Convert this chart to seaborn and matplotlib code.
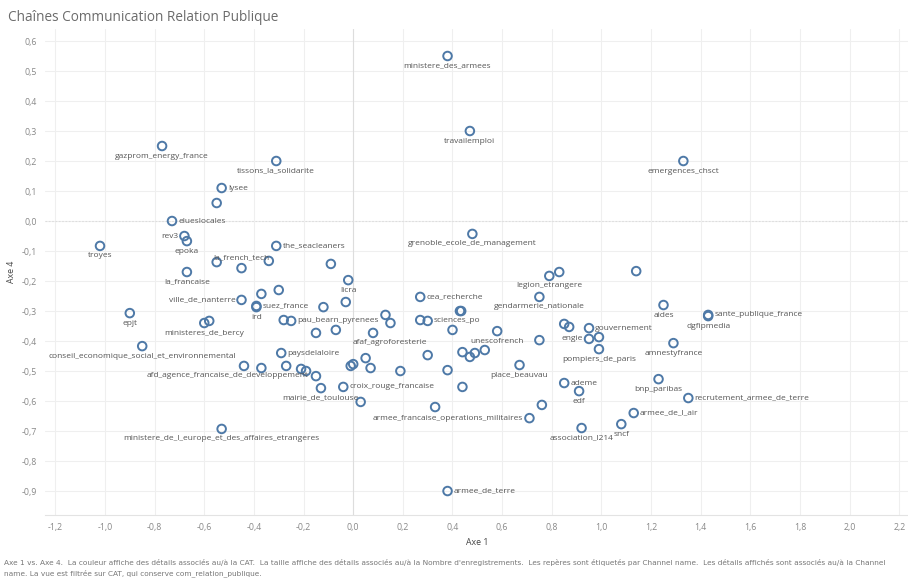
import matplotlib
matplotlib.use("Agg")
import matplotlib.pyplot as plt
import seaborn as sns
import pandas as pd
from matplotlib.ticker import FuncFormatter, MultipleLocator

# ---------------- data ----------------
channel_name = [
    "ministere_des_armees", "travailemploi", "gazprom_energy_france", "tissons_la_solidarite",
    "emergences_chsct", "lysee", "", "elueslocales", "rev3", "epoka", "troyes", "the_seacleaners",
    "grenoble_ecole_de_management", "", "la_french_tech", "", "", "la_francaise", "licra", "", "",
    "ville_de_nanterre", "suez_france", "ird", "", "", "epjt", "ministeres_de_bercy", "", "",
    "pau_bearn_pyrenees", "", "", "afaf_agroforesterie", "", "",
    "conseil_economique_social_et_environnemental", "paysdelaloire",
    "afd_agence_francaise_de_developpement", "", "", "", "", "", "mairie_de_toulouse",
    "croix_rouge_francaise", "", "", "", "", "", "cea_recherche", "", "", "", "sciences_po", "",
    "unescofrench", "", "", "", "", "", "", "place_beauvau", "", "", "", "", "",
    "armee_francaise_operations_militaires", "armee_de_terre", "legion_etrangere", "", "",
    "gendarmerie_nationale", "", "", "gouvernement", "engie", "", "pompiers_de_paris", "ademe",
    "edf", "association_l214", "sncf", "armee_de_l_air", "aides", "sante_publique_france",
    "dgfipmedia", "amnestyfrance", "bnp_paribas", "recrutement_armee_de_terre",
    "ministere_de_l_europe_et_des_affaires_etrangeres",
]
axe1 = [
    0.38, 0.47, -0.77, -0.31,
    1.33, -0.53, -0.55, -0.73, -0.68, -0.67, -1.02, -0.31,
    0.48, -0.55, -0.45, -0.34, -0.09, -0.67, -0.02, -0.37, -0.30,
    -0.45, -0.39, -0.39, -0.12, -0.03, -0.90, -0.60, -0.58, -0.28,
    -0.25, -0.15, -0.07, 0.08, 0.13, 0.15,
    -0.85, -0.29,
    -0.44, -0.37, -0.27, -0.21, -0.19, -0.15, -0.13,
    -0.04, 0.03, -0.01, 0.00, 0.05, 0.07, 0.27, 0.43, 0.435, 0.27, 0.30, 0.40,
    0.58, 0.75, 0.30, 0.44, 0.49, 0.47, 0.53, 0.67, 0.19, 0.38, 0.44, 0.33, 0.76,
    0.71, 0.38, 0.79, 0.83, 1.14,
    0.75, 0.85, 0.87, 0.95, 0.95, 0.99, 0.99, 0.85,
    0.91, 0.92, 1.08, 1.13, 1.25, 1.43,
    1.43, 1.29, 1.23, 1.35,
    -0.53,
]
axe4 = [
    0.55, 0.30, 0.25, 0.20,
    0.20, 0.11, 0.06, 0.00, -0.05, -0.067, -0.083, -0.083,
    -0.043, -0.137, -0.157, -0.133, -0.143, -0.17, -0.197, -0.243, -0.23,
    -0.263, -0.283, -0.287, -0.287, -0.27, -0.307, -0.34, -0.333, -0.33,
    -0.333, -0.373, -0.363, -0.373, -0.313, -0.34,
    -0.417, -0.44,
    -0.483, -0.49, -0.483, -0.493, -0.50, -0.517, -0.557,
    -0.553, -0.603, -0.483, -0.477, -0.457, -0.49, -0.253, -0.30, -0.30, -0.33, -0.333, -0.363,
    -0.367, -0.397, -0.447, -0.437, -0.44, -0.453, -0.43, -0.48, -0.50, -0.497, -0.553, -0.62, -0.613,
    -0.657, -0.90, -0.183, -0.17, -0.167,
    -0.253, -0.343, -0.353, -0.357, -0.393, -0.387, -0.427, -0.54,
    -0.567, -0.69, -0.677, -0.64, -0.28, -0.313,
    -0.317, -0.407, -0.527, -0.59,
    -0.693,
]

x_ticks = [-1.2, -1.0, -0.8, -0.6, -0.4, -0.2, 0.0, 0.2, 0.4, 0.6, 0.8, 1.0, 1.2, 1.4, 1.6, 1.8, 2.0, 2.2]
y_ticks = [0.6, 0.5, 0.4, 0.3, 0.2, 0.1, 0.0, -0.1, -0.2, -0.3, -0.4, -0.5, -0.6, -0.7, -0.8, -0.9]

title = "Chaînes Communication Relation Publique"
caption = ("Axe 1 vs. Axe 4.  La couleur affiche des détails associés au/à la CAT.  La taille affiche des détails "
           "associés au/à la Nombre d'enregistrements.  Les repères sont étiquetés par Channel name.  Les détails "
           "affichés sont associés au/à la Channel\nname. La vue est filtrée sur CAT, qui conserve com_relation_publique.")

# label placement (style): default below
label_side = {
    "lysee": "right", "elueslocales": "right", "rev3": "left", "the_seacleaners": "right",
    "la_french_tech": "above", "ville_de_nanterre": "left", "suez_france": "right",
    "pau_bearn_pyrenees": "right", "paysdelaloire": "right", "croix_rouge_francaise": "right",
    "cea_recherche": "right", "sciences_po": "right", "armee_francaise_operations_militaires": "left",
    "armee_de_terre": "right", "gouvernement": "right", "engie": "left", "ademe": "right",
    "armee_de_l_air": "right", "sante_publique_france": "right", "recrutement_armee_de_terre": "right",
}
label_dx = {"afd_agence_francaise_de_developpement": -12, "afaf_agroforesterie": 12}

df = pd.DataFrame({"Channel name": channel_name, "Axe 1": axe1, "Axe 4": axe4})

# ---------------- style ----------------
sns.set_theme(style="white")
plt.rcParams["font.family"] = ["Open Sans", "DejaVu Sans"]

BLUE = "#4e79a7"
GRID = "#efefef"
TXT = "#555555"
TICK = "#888888"

fig = plt.figure(figsize=(9.08, 5.8), dpi=100)
ax = fig.add_axes([0.05, 0.112, 0.95, 0.838])

sns.scatterplot(data=df, x="Axe 1", y="Axe 4", ax=ax, marker="o", s=38,
                facecolors="none", edgecolor=BLUE, linewidth=1.4, zorder=3)

ax.set_xlim(-1.24, 2.235)
ax.set_ylim(-0.98, 0.64)
ax.set_xticks(x_ticks)
ax.set_yticks(y_ticks)
fmt = FuncFormatter(lambda v, p: f"{v:.1f}".replace(".", ",").replace("-0,0", "0,0"))
ax.xaxis.set_major_formatter(fmt)
ax.yaxis.set_major_formatter(fmt)
ax.tick_params(axis="both", length=0, labelsize=6.3, labelcolor=TICK, pad=6)
ax.grid(True, color=GRID, linewidth=0.8, zorder=0)
ax.axhline(0, color="#dddddd", linewidth=0.8, linestyle=(0, (1.5, 1.5)), zorder=1)
ax.axvline(0, color="#dddddd", linewidth=0.8, zorder=1)
for s in ["top", "right", "left"]:
    ax.spines[s].set_visible(False)
ax.spines["bottom"].set_color("#e3e3e3")
ax.spines["bottom"].set_linewidth(0.8)

ax.set_xlabel("Axe 1", fontsize=6.3, color="#444444", labelpad=4)
ax.set_ylabel("Axe 4", fontsize=6.3, color="#444444", labelpad=4)

for name, xv, yv in zip(channel_name, axe1, axe4):
    if not name:
        continue
    side = label_side.get(name, "below")
    dx = label_dx.get(name, 0)
    if side == "below":
        off, ha, va = (dx, -7.2), "center", "center"
    elif side == "above":
        off, ha, va = (dx, 7.2), "center", "center"
    elif side == "right":
        off, ha, va = (4.5, 0), "left", "center"
    else:
        off, ha, va = (-4.5, 0), "right", "center"
    ax.annotate(name, (xv, yv), xytext=off, textcoords="offset points",
                ha=ha, va=va, fontsize=6.0, color=TXT, zorder=4)

fig.text(0.009, 0.97, title, fontsize=9.8, color="#6b6b6b", ha="left", va="center")
fig.text(0.004, 0.006, caption, fontsize=5.35, color="#777777", ha="left", va="bottom",
         family=["Liberation Sans Narrow", "DejaVu Sans"], linespacing=1.5)

fig.savefig("out.png", dpi=100)
